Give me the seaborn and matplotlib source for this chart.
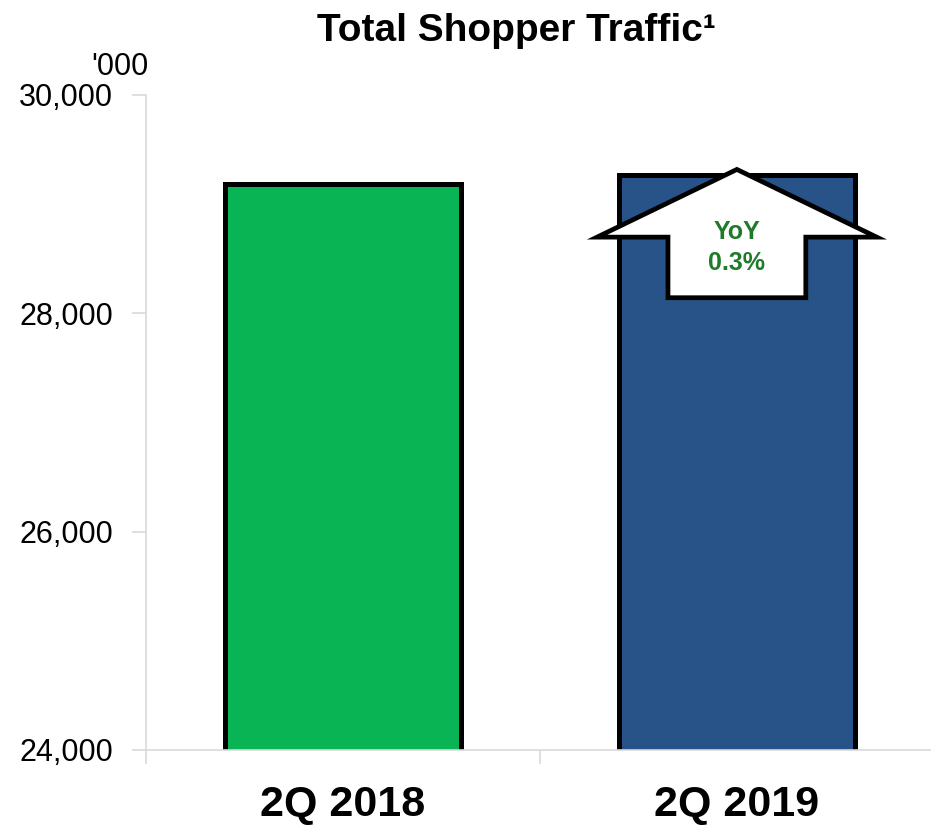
import matplotlib
matplotlib.use("Agg")
import matplotlib.pyplot as plt
import seaborn as sns
import pandas as pd
from matplotlib.patches import Polygon

# Data ('000 shoppers)
quarters = ["2Q 2018", "2Q 2019"]
traffic = [29180, 29262]
bar_colors = ["#08B454", "#285388"]
yoy_label = "YoY\n0.3%"
y_ticks = [24000, 26000, 28000, 30000]

sns.set_style("white")
plt.rcParams["font.family"] = ["Liberation Sans", "DejaVu Sans"]
plt.rcParams["text.color"] = "black"
plt.rcParams["xtick.color"] = "black"
plt.rcParams["ytick.color"] = "black"

df = pd.DataFrame({"quarter": quarters, "traffic": traffic})

fig = plt.figure(figsize=(9.31, 8.25), dpi=100)
ax = fig.add_axes([0.157, 0.091, 0.846, 0.794])

sns.barplot(data=df, x="quarter", y="traffic", hue="quarter",
            palette=bar_colors, saturation=1, width=0.6, edgecolor="black",
            linewidth=3.6, legend=False, ax=ax)

ax.set_ylim(24000, 30000)
ax.set_xlim(-0.5, 1.5)
ax.set_yticks(y_ticks)
ax.set_yticklabels([f"{v:,}" for v in y_ticks], fontsize=22)
ax.set_ylabel("")
ax.set_xlabel("")

# category boundary ticks on the x axis, labels placed as minor ticks
ax.set_xticks([-0.5, 0.5])
ax.set_xticklabels(["", ""])
ax.set_xticks([0, 1], minor=True)
ax.set_xticklabels(quarters, minor=True, fontsize=31, fontweight="bold")
ax.tick_params(axis="x", which="minor", bottom=True, length=0, pad=25)
ax.tick_params(axis="x", which="major", bottom=True, length=10,
               color="#d9d9d9", width=1.2)
ax.tick_params(axis="y", left=True, length=10, color="#d9d9d9", width=1.2,
               labelcolor="black", pad=14)

for side in ["top", "right"]:
    ax.spines[side].set_visible(False)
for side in ["left", "bottom"]:
    ax.spines[side].set_color("#d9d9d9")
    ax.spines[side].set_linewidth(1.2)

# YoY up-arrow over the second bar (x in data units, y in data units)
xc = 1
top = traffic[1] + 55
arrow = [
    (xc, top),
    (xc + 0.355, top - 620),
    (xc + 0.175, top - 620),
    (xc + 0.175, top - 1175),
    (xc - 0.175, top - 1175),
    (xc - 0.175, top - 620),
    (xc - 0.355, top - 620),
]
ax.add_patch(Polygon(arrow, closed=True, facecolor="white",
                     edgecolor="black", linewidth=3.4, zorder=5,
                     clip_on=False))
ax.text(xc, top - 715, yoy_label, ha="center", va="center",
        fontsize=18, fontweight="bold", color="#1E7B2A",
        linespacing=1.4, zorder=6)

ax.text(-0.495, 30120, "'000", ha="right", va="bottom", fontsize=22)

fig.text(0.555, 0.962, "Total Shopper Traffic\u00b9", ha="center",
         va="center", fontsize=28, fontweight="bold")

fig.savefig("out.png", dpi=100)
